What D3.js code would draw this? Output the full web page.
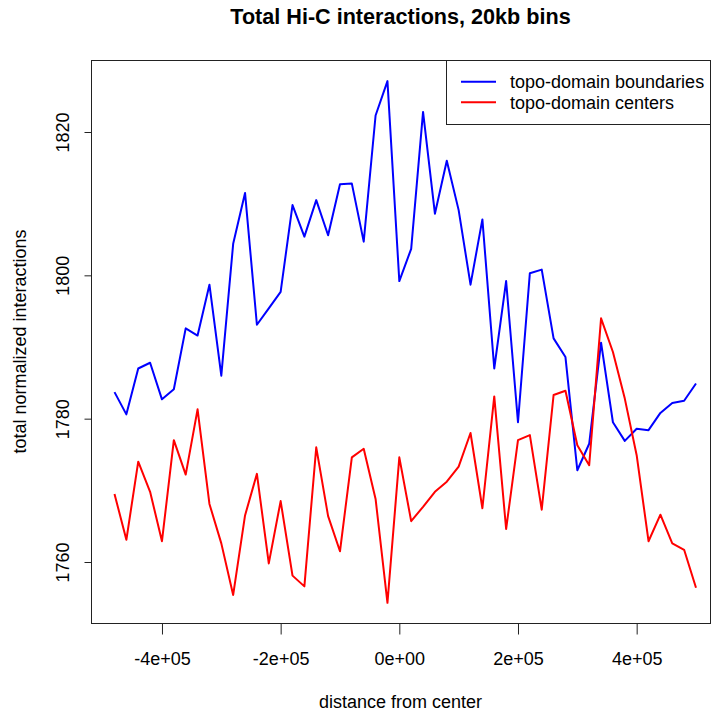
<!DOCTYPE html>
<html>
<head>
<meta charset="utf-8">
<script src="https://cdn.jsdelivr.net/npm/d3@7"></script>
<style>
  html, body { margin: 0; padding: 0; background: #fff; }
  svg { display: block; font-family: "Liberation Sans", Arial, Helvetica, sans-serif; }
</style>
</head>
<body>
<svg id="chart" width="715" height="713"></svg>
<script>
// ---- data ----
const distances = d3.range(-480000, 500001, 20000); // 50 bins of 20kb
const boundaries = [
  1783.7, 1780.6, 1787.0, 1787.8, 1782.7, 1784.1, 1792.6, 1791.6, 1798.7, 1786.0,
  1804.4, 1811.5, 1793.1, 1795.4, 1797.7, 1809.8, 1805.4, 1810.5, 1805.6, 1812.7,
  1812.8, 1804.7, 1822.3, 1827.1, 1799.2, 1803.7, 1822.8, 1808.6, 1816.0, 1809.1,
  1798.7, 1807.8, 1787.0, 1799.2, 1779.5, 1800.3, 1800.8, 1791.2, 1788.6, 1772.8,
  1776.5, 1790.6, 1779.5, 1776.9, 1778.6, 1778.4, 1780.8, 1782.2, 1782.5, 1784.9
];
const centers = [
  1769.5, 1763.1, 1774.0, 1769.8, 1762.9, 1777.0, 1772.2, 1781.3, 1768.1, 1762.6,
  1755.4, 1766.5, 1772.3, 1759.8, 1768.5, 1758.1, 1756.6, 1776.0, 1766.4, 1761.5,
  1774.6, 1775.8, 1768.8, 1754.3, 1774.6, 1765.7, 1767.7, 1769.8, 1771.2, 1773.3,
  1778.0, 1767.5, 1783.1, 1764.6, 1777.0, 1777.7, 1767.3, 1783.3, 1783.9, 1776.3,
  1773.5, 1794.0, 1789.3, 1782.8, 1774.9, 1762.9, 1766.6, 1762.6, 1761.7, 1756.4
];
const xTicks = [-400000, -200000, 0, 200000, 400000];
const xTickLabels = ["-4e+05", "-2e+05", "0e+00", "2e+05", "4e+05"];
const yTicks = [1760, 1780, 1800, 1820];
const seriesNames = ["topo-domain boundaries", "topo-domain centers"];
const seriesColors = ["#0000ff", "#ff0000"];
const titleText = "Total Hi-C interactions, 20kb bins";
const xLabel = "distance from center";
const yLabel = "total normalized interactions";

// ---- layout ----
const svg = d3.select("#chart");
const box = { left: 91, right: 710, top: 60, bottom: 623 };

const x = d3.scaleLinear().domain([-480000, 500000]).range([114.5, 696]);
const y = d3.scaleLinear().domain([1760, 1820]).range([562, 132]);

// series lines
const line = d3.line().x((d, i) => x(distances[i])).y(d => y(d));
[boundaries, centers].forEach((vals, k) => {
  svg.append("path")
    .datum(vals)
    .attr("fill", "none")
    .attr("stroke", seriesColors[k])
    .attr("stroke-width", 2)
    .attr("stroke-linejoin", "round")
    .attr("d", line);
});

// box
svg.append("rect")
  .attr("x", box.left + 0.5).attr("y", box.top + 0.5)
  .attr("width", box.right - box.left).attr("height", box.bottom - box.top)
  .attr("fill", "none").attr("stroke", "#222").attr("stroke-width", 1);

// x axis
const xAxis = d3.axisBottom(x).tickValues(xTicks)
  .tickFormat((d, i) => xTickLabels[i]).tickSizeOuter(0).tickSize(11).tickPadding(0);
const gx = svg.append("g").attr("transform", `translate(0,${box.bottom + 0.5})`).call(xAxis);
gx.select(".domain").remove();
gx.selectAll(".tick line").attr("stroke", "#222");
gx.selectAll(".tick text").attr("font-size", 18).attr("fill", "#000")
  .attr("dy", null).attr("y", 41);

// y axis
const yAxis = d3.axisLeft(y).tickValues(yTicks).tickSizeOuter(0).tickSize(7).tickPadding(0)
  .tickFormat(d3.format("d"));
const gy = svg.append("g").attr("transform", `translate(${box.left + 0.5},0)`).call(yAxis);
gy.select(".domain").remove();
gy.selectAll(".tick line").attr("stroke", "#222");
gy.selectAll(".tick text")
  .attr("font-size", 18).attr("fill", "#000")
  .attr("x", null).attr("dy", null)
  .attr("text-anchor", "middle")
  .attr("transform", "translate(-23,0) rotate(-90)");

// title
svg.append("text").attr("x", (box.left + box.right) / 2).attr("y", 24)
  .attr("text-anchor", "middle").attr("font-size", 21.6).attr("font-weight", "bold")
  .text(titleText);

// axis titles
svg.append("text").attr("x", (box.left + box.right) / 2).attr("y", 708)
  .attr("text-anchor", "middle").attr("font-size", 18).text(xLabel);
svg.append("text")
  .attr("transform", `translate(26,${(box.top + box.bottom) / 2}) rotate(-90)`)
  .attr("text-anchor", "middle").attr("font-size", 18).text(yLabel);

// legend
const lg = svg.append("g");
lg.append("rect").attr("x", 446.5).attr("y", box.top + 0.5)
  .attr("width", box.right - 446).attr("height", 64)
  .attr("fill", "#fff").attr("stroke", "#222").attr("stroke-width", 1);
seriesNames.forEach((name, k) => {
  const ly = 81.7 + k * 20.6;
  lg.append("line").attr("x1", 461).attr("x2", 496).attr("y1", ly).attr("y2", ly)
    .attr("stroke", seriesColors[k]).attr("stroke-width", 2);
  lg.append("text").attr("x", 510).attr("y", ly).attr("dy", "0.35em")
    .attr("font-size", 18).text(name);
});
</script>
</body>
</html>
